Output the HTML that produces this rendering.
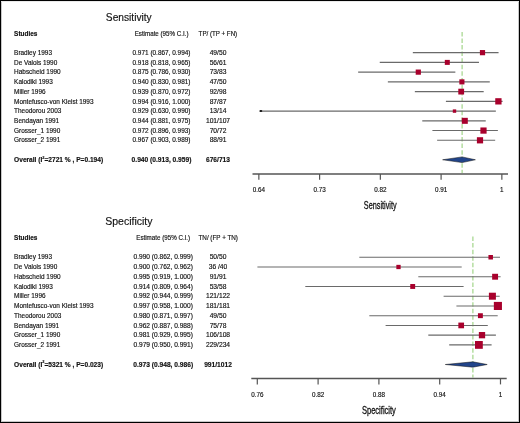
<!DOCTYPE html>
<html><head><meta charset="utf-8"><style>
html,body{margin:0;padding:0;background:#fff;}
body{width:520px;height:423px;overflow:hidden;}
svg{display:block;filter:blur(0.3px);}
text{font-family:"Liberation Sans", sans-serif;fill:#111;stroke:#111;stroke-width:0.15px;}
.ax{stroke-width:0.3px;}
</style></head><body>
<svg width="520" height="423" viewBox="0 0 520 423">
<rect x="0" y="0" width="520" height="423" fill="#fff"/>
<text x="128.8" y="20.5" font-size="10.2" text-anchor="middle">Sensitivity</text>
<text x="14.1" y="35.8" font-size="6.45" font-weight="bold">Studies</text>
<text x="161.6" y="35.8" font-size="6.5" text-anchor="middle" textLength="53.9" lengthAdjust="spacingAndGlyphs">Estimate (95% C.I.)</text>
<text x="217.9" y="35.8" font-size="6.5" text-anchor="middle" textLength="38.6" lengthAdjust="spacingAndGlyphs">TP/ (TP + FN)</text>
<text x="14.1" y="54.8" font-size="6.45">Bradley 1993</text>
<text x="161.5" y="54.8" font-size="6.45" text-anchor="middle">0.971 (0.867, 0.994)</text>
<text x="218" y="54.8" font-size="6.7" text-anchor="middle">49/50</text>
<text x="14.1" y="64.54" font-size="6.45">De Valois 1990</text>
<text x="161.5" y="64.54" font-size="6.45" text-anchor="middle">0.918 (0.818, 0.965)</text>
<text x="218" y="64.54" font-size="6.7" text-anchor="middle">56/61</text>
<text x="14.1" y="74.28" font-size="6.45">Habscheid 1990</text>
<text x="161.5" y="74.28" font-size="6.45" text-anchor="middle">0.875 (0.786, 0.930)</text>
<text x="218" y="74.28" font-size="6.7" text-anchor="middle">73/83</text>
<text x="14.1" y="84.02" font-size="6.45">Kalodiki 1993</text>
<text x="161.5" y="84.02" font-size="6.45" text-anchor="middle">0.940 (0.830, 0.981)</text>
<text x="218" y="84.02" font-size="6.7" text-anchor="middle">47/50</text>
<text x="14.1" y="93.76" font-size="6.45">Miller 1996</text>
<text x="161.5" y="93.76" font-size="6.45" text-anchor="middle">0.939 (0.870, 0.972)</text>
<text x="218" y="93.76" font-size="6.7" text-anchor="middle">92/98</text>
<text x="14.1" y="103.5" font-size="6.45">Montefusco-von Kleist 1993</text>
<text x="161.5" y="103.5" font-size="6.45" text-anchor="middle">0.994 (0.916, 1.000)</text>
<text x="218" y="103.5" font-size="6.7" text-anchor="middle">87/87</text>
<text x="14.1" y="113.24" font-size="6.45">Theodorou 2003</text>
<text x="161.5" y="113.24" font-size="6.45" text-anchor="middle">0.929 (0.630, 0.990)</text>
<text x="218" y="113.24" font-size="6.7" text-anchor="middle">13/14</text>
<text x="14.1" y="122.98" font-size="6.45">Bendayan 1991</text>
<text x="161.5" y="122.98" font-size="6.45" text-anchor="middle">0.944 (0.881, 0.975)</text>
<text x="218" y="122.98" font-size="6.7" text-anchor="middle">101/107</text>
<text x="14.1" y="132.72" font-size="6.45">Grosser_1 1990</text>
<text x="161.5" y="132.72" font-size="6.45" text-anchor="middle">0.972 (0.896, 0.993)</text>
<text x="218" y="132.72" font-size="6.7" text-anchor="middle">70/72</text>
<text x="14.1" y="142.46" font-size="6.45">Grosser_2 1991</text>
<text x="161.5" y="142.46" font-size="6.45" text-anchor="middle">0.967 (0.903, 0.989)</text>
<text x="218" y="142.46" font-size="6.7" text-anchor="middle">88/91</text>
<text x="14.1" y="161.9" font-size="6.6" font-weight="bold">Overall (I<tspan font-size="3.9" dy="-3.4">2</tspan><tspan dy="3.4">=2721 % , P=0.194)</tspan></text>
<text x="161.5" y="161.9" font-size="6.65" font-weight="bold" text-anchor="middle">0.940 (0.913, 0.959)</text>
<text x="218" y="161.9" font-size="6.65" font-weight="bold" text-anchor="middle">676/713</text>
<line x1="462.1" y1="31.9" x2="462.1" y2="173" stroke="#9ad27f" stroke-width="1.1" stroke-dasharray="4.5 2.07"/>
<line x1="412.83" y1="52.65" x2="498.55" y2="52.65" stroke="#6a6a6a" stroke-width="1.1"/>
<line x1="379.75" y1="62.39" x2="478.98" y2="62.39" stroke="#6a6a6a" stroke-width="1.1"/>
<line x1="358.15" y1="72.13" x2="455.35" y2="72.13" stroke="#6a6a6a" stroke-width="1.1"/>
<line x1="387.85" y1="81.87" x2="489.77" y2="81.87" stroke="#6a6a6a" stroke-width="1.1"/>
<line x1="414.85" y1="91.61" x2="483.7" y2="91.61" stroke="#6a6a6a" stroke-width="1.1"/>
<line x1="445.9" y1="101.35" x2="502.6" y2="101.35" stroke="#6a6a6a" stroke-width="1.1"/>
<line x1="259.6" y1="111.09" x2="495.85" y2="111.09" stroke="#6a6a6a" stroke-width="1.1"/>
<line x1="422.27" y1="120.83" x2="485.73" y2="120.83" stroke="#6a6a6a" stroke-width="1.1"/>
<line x1="432.4" y1="130.57" x2="497.88" y2="130.57" stroke="#6a6a6a" stroke-width="1.1"/>
<line x1="437.12" y1="140.31" x2="495.18" y2="140.31" stroke="#6a6a6a" stroke-width="1.1"/>
<ellipse cx="260.9" cy="111.09" rx="1.4" ry="1" fill="#111"/>
<rect x="479.9" y="50.05" width="5.2" height="5.2" fill="#a8002c"/>
<rect x="444.8" y="59.89" width="5" height="5" fill="#a8002c"/>
<rect x="415.7" y="69.53" width="5.2" height="5.2" fill="#a8002c"/>
<rect x="459.35" y="79.32" width="5.1" height="5.1" fill="#a8002c"/>
<rect x="458.3" y="88.71" width="5.8" height="5.8" fill="#a8002c"/>
<rect x="495.25" y="98.2" width="6.3" height="6.3" fill="#a8002c"/>
<rect x="452.8" y="109.39" width="3.4" height="3.4" fill="#a8002c"/>
<rect x="461.8" y="117.83" width="6" height="6" fill="#a8002c"/>
<rect x="480.4" y="127.47" width="6.2" height="6.2" fill="#a8002c"/>
<rect x="476.9" y="137.21" width="6.2" height="6.2" fill="#a8002c"/>
<path d="M442.6 159.75 L462.1 156.9 L475.4 159.75 L462.1 162.6 Z" fill="#21448a" stroke="#111" stroke-width="0.5"/>
<line x1="252.5" y1="174" x2="508" y2="174" stroke="#555" stroke-width="1.5"/>
<line x1="258.85" y1="174" x2="258.85" y2="179.8" stroke="#555" stroke-width="1.2"/>
<text x="258.85" y="192.2" font-size="6.3" text-anchor="middle">0.64</text>
<line x1="319.6" y1="174" x2="319.6" y2="179.8" stroke="#555" stroke-width="1.2"/>
<text x="319.6" y="192.2" font-size="6.3" text-anchor="middle">0.73</text>
<line x1="380.35" y1="174" x2="380.35" y2="179.8" stroke="#555" stroke-width="1.2"/>
<text x="380.35" y="192.2" font-size="6.3" text-anchor="middle">0.82</text>
<line x1="441.1" y1="174" x2="441.1" y2="179.8" stroke="#555" stroke-width="1.2"/>
<text x="441.1" y="192.2" font-size="6.3" text-anchor="middle">0.91</text>
<line x1="501.85" y1="174" x2="501.85" y2="179.8" stroke="#555" stroke-width="1.2"/>
<text x="501.85" y="192.2" font-size="6.3" text-anchor="middle">1</text>
<text x="380.2" y="209.2" font-size="10.4" font-weight="normal" class="ax" text-anchor="middle" textLength="32.7" lengthAdjust="spacingAndGlyphs">Sensitivity</text>
<text x="128.85" y="225.1" font-size="10.5" text-anchor="middle">Specificity</text>
<text x="14.1" y="240.4" font-size="6.45" font-weight="bold">Studies</text>
<text x="163.2" y="240.4" font-size="6.5" text-anchor="middle" textLength="53.9" lengthAdjust="spacingAndGlyphs">Estimate (95% C.I.)</text>
<text x="218.2" y="240.4" font-size="6.5" text-anchor="middle" textLength="39.4" lengthAdjust="spacingAndGlyphs">TN/ (FP + TN)</text>
<text x="14.1" y="259.4" font-size="6.45">Bradley 1993</text>
<text x="163.2" y="259.4" font-size="6.6" text-anchor="middle">0.990 (0.862, 0.999)</text>
<text x="218" y="259.4" font-size="6.7" text-anchor="middle">50/50</text>
<text x="14.1" y="269.14" font-size="6.45">De Valois 1990</text>
<text x="163.2" y="269.14" font-size="6.6" text-anchor="middle">0.900 (0.762, 0.962)</text>
<text x="218" y="269.14" font-size="6.7" text-anchor="middle">36 /40</text>
<text x="14.1" y="278.88" font-size="6.45">Habscheid 1990</text>
<text x="163.2" y="278.88" font-size="6.6" text-anchor="middle">0.995 (0.919, 1.000)</text>
<text x="218" y="278.88" font-size="6.7" text-anchor="middle">91/91</text>
<text x="14.1" y="288.62" font-size="6.45">Kalodiki 1993</text>
<text x="163.2" y="288.62" font-size="6.6" text-anchor="middle">0.914 (0.809, 0.964)</text>
<text x="218" y="288.62" font-size="6.7" text-anchor="middle">53/58</text>
<text x="14.1" y="298.36" font-size="6.45">Miller 1996</text>
<text x="163.2" y="298.36" font-size="6.6" text-anchor="middle">0.992 (0.944, 0.999)</text>
<text x="218" y="298.36" font-size="6.7" text-anchor="middle">121/122</text>
<text x="14.1" y="308.1" font-size="6.45">Montefusco-von Kleist 1993</text>
<text x="163.2" y="308.1" font-size="6.6" text-anchor="middle">0.997 (0.958, 1.000)</text>
<text x="218" y="308.1" font-size="6.7" text-anchor="middle">181/181</text>
<text x="14.1" y="317.84" font-size="6.45">Theodorou 2003</text>
<text x="163.2" y="317.84" font-size="6.6" text-anchor="middle">0.980 (0.871, 0.997)</text>
<text x="218" y="317.84" font-size="6.7" text-anchor="middle">49/50</text>
<text x="14.1" y="327.58" font-size="6.45">Bendayan 1991</text>
<text x="163.2" y="327.58" font-size="6.6" text-anchor="middle">0.962 (0.887, 0.988)</text>
<text x="218" y="327.58" font-size="6.7" text-anchor="middle">75/78</text>
<text x="14.1" y="337.32" font-size="6.45">Grosser_1 1990</text>
<text x="163.2" y="337.32" font-size="6.6" text-anchor="middle">0.981 (0.929, 0.995)</text>
<text x="218" y="337.32" font-size="6.7" text-anchor="middle">106/108</text>
<text x="14.1" y="347.06" font-size="6.45">Grosser_2 1991</text>
<text x="163.2" y="347.06" font-size="6.6" text-anchor="middle">0.979 (0.950, 0.991)</text>
<text x="218" y="347.06" font-size="6.7" text-anchor="middle">229/234</text>
<text x="14.1" y="366.5" font-size="6.6" font-weight="bold">Overall (I<tspan font-size="3.9" dy="-3.4">2</tspan><tspan dy="3.4">=5321 % , P=0.023)</tspan></text>
<text x="163.2" y="366.5" font-size="6.65" font-weight="bold" text-anchor="middle">0.973 (0.948, 0.986)</text>
<text x="218" y="366.5" font-size="6.65" font-weight="bold" text-anchor="middle">991/1012</text>
<line x1="472.9" y1="236.5" x2="472.9" y2="377.6" stroke="#9ad27f" stroke-width="1.1" stroke-dasharray="4.5 2.07"/>
<line x1="359.3" y1="257.25" x2="500" y2="257.25" stroke="#6a6a6a" stroke-width="1.1"/>
<line x1="257.4" y1="266.99" x2="461.7" y2="266.99" stroke="#6a6a6a" stroke-width="1.1"/>
<line x1="418.3" y1="276.73" x2="500.6" y2="276.73" stroke="#6a6a6a" stroke-width="1.1"/>
<line x1="305.3" y1="286.47" x2="463.6" y2="286.47" stroke="#6a6a6a" stroke-width="1.1"/>
<line x1="443.6" y1="296.21" x2="499.7" y2="296.21" stroke="#6a6a6a" stroke-width="1.1"/>
<line x1="456.4" y1="305.95" x2="500.6" y2="305.95" stroke="#6a6a6a" stroke-width="1.1"/>
<line x1="369.3" y1="315.69" x2="497.7" y2="315.69" stroke="#6a6a6a" stroke-width="1.1"/>
<line x1="385.6" y1="325.43" x2="487.8" y2="325.43" stroke="#6a6a6a" stroke-width="1.1"/>
<line x1="428.3" y1="335.17" x2="495.9" y2="335.17" stroke="#6a6a6a" stroke-width="1.1"/>
<line x1="449.2" y1="344.91" x2="491.6" y2="344.91" stroke="#6a6a6a" stroke-width="1.1"/>
<rect x="488.45" y="255" width="4.5" height="4.5" fill="#a8002c"/>
<rect x="396.35" y="264.84" width="4.3" height="4.3" fill="#a8002c"/>
<rect x="492.15" y="273.78" width="5.9" height="5.9" fill="#a8002c"/>
<rect x="410.25" y="284.02" width="4.9" height="4.9" fill="#a8002c"/>
<rect x="488.9" y="292.71" width="7" height="7" fill="#a8002c"/>
<rect x="493.85" y="301.9" width="8.1" height="8.1" fill="#a8002c"/>
<rect x="477.95" y="313.24" width="4.9" height="4.9" fill="#a8002c"/>
<rect x="458.35" y="322.58" width="5.7" height="5.7" fill="#a8002c"/>
<rect x="478.85" y="332.02" width="6.3" height="6.3" fill="#a8002c"/>
<rect x="475" y="341.01" width="7.8" height="7.8" fill="#a8002c"/>
<path d="M445.3 364.5 L472.9 361.8 L487.2 364.5 L472.9 367.2 Z" fill="#21448a" stroke="#111" stroke-width="0.5"/>
<line x1="251.3" y1="378.6" x2="506.7" y2="378.6" stroke="#555" stroke-width="1.5"/>
<line x1="257.3" y1="378.6" x2="257.3" y2="384.4" stroke="#555" stroke-width="1.2"/>
<text x="257.3" y="397.2" font-size="6.3" text-anchor="middle">0.76</text>
<line x1="318.1" y1="378.6" x2="318.1" y2="384.4" stroke="#555" stroke-width="1.2"/>
<text x="318.1" y="397.2" font-size="6.3" text-anchor="middle">0.82</text>
<line x1="378.9" y1="378.6" x2="378.9" y2="384.4" stroke="#555" stroke-width="1.2"/>
<text x="378.9" y="397.2" font-size="6.3" text-anchor="middle">0.88</text>
<line x1="439.69" y1="378.6" x2="439.69" y2="384.4" stroke="#555" stroke-width="1.2"/>
<text x="439.69" y="397.2" font-size="6.3" text-anchor="middle">0.94</text>
<line x1="500.49" y1="378.6" x2="500.49" y2="384.4" stroke="#555" stroke-width="1.2"/>
<text x="500.49" y="397.2" font-size="6.3" text-anchor="middle">1</text>
<text x="378.9" y="413.8" font-size="10.4" font-weight="normal" class="ax" text-anchor="middle" textLength="34.0" lengthAdjust="spacingAndGlyphs">Specificity</text>
<rect x="1.5" y="1.5" width="517" height="420" fill="none" stroke="#c8c8c8" stroke-width="1"/>
<line x1="1" y1="1.5" x2="519" y2="1.5" stroke="#eaeaea" stroke-width="1"/>
<rect x="0.5" y="0.5" width="519" height="422" fill="none" stroke="#000" stroke-width="1"/>
</svg>
</body></html>
